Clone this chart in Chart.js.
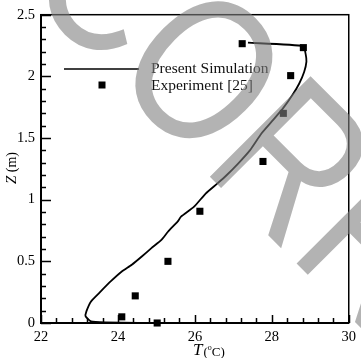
<!DOCTYPE html>
<html>
<head>
<meta charset="utf-8">
<script src="https://cdn.jsdelivr.net/npm/chart.js@4/dist/chart.umd.min.js"></script>
<style>
  html, body { margin: 0; padding: 0; background: #fff; }
  #wrap { width: 361px; height: 358px; position: relative; }
</style>
</head>
<body>
<div id="wrap"><canvas id="myChart"></canvas></div>
<script>
// simulated temperature profile, T (degC) against height Z (m)
const simT = [27.38, 28.82, 28.88, 28.90, 28.84, 28.71, 28.54, 28.29, 28.03, 27.73, 27.43, 27.13, 26.83, 26.58, 26.28, 25.98, 25.64, 25.55, 25.30, 25.13, 24.87, 24.62, 24.36, 24.10, 23.81, 23.51, 23.30, 23.18, 23.16, 23.30, 23.68, 24.53, 25.00];
const simZ = [2.273, 2.245, 2.18, 2.12, 2.035, 1.94, 1.85, 1.74, 1.645, 1.537, 1.40, 1.295, 1.20, 1.13, 1.05, 0.943, 0.862, 0.822, 0.74, 0.674, 0.607, 0.539, 0.472, 0.418, 0.337, 0.243, 0.175, 0.094, 0.053, 0.013, 0.005, 0.0, 0.0];

// measured points
const expT = [27.23, 28.82, 28.49, 28.30, 27.77, 26.13, 25.30, 24.45, 24.10, 25.02];
const expZ = [2.265, 2.233, 2.006, 1.70, 1.31, 0.906, 0.50, 0.22, 0.05, 0.0];

const seriesNames = ['Present Simulation', 'Experiment [25]'];

const xTicks = [22, 24, 26, 28, 30];
const yTicks = [0, 0.5, 1, 1.5, 2, 2.5];

const serif = "'Liberation Serif', 'DejaVu Serif', serif";

const toPoints = (xs, ys) => xs.map((x, i) => ({ x: x, y: ys[i] }));

// box frame plus inward major/minor ticks
const frameTicks = {
  id: 'frameTicks',
  afterDatasetsDraw(chart) {
    const { ctx, chartArea: a, scales: { x, y } } = chart;
    ctx.save();
    ctx.strokeStyle = '#000';
    ctx.lineWidth = 1.5;
    ctx.strokeRect(a.left, a.top, a.right - a.left, a.bottom - a.top);
    ctx.beginPath();
    for (let v = xTicks[0]; v <= xTicks[xTicks.length - 1] + 1e-6; v += 0.4) {
      const px = Math.round(x.getPixelForValue(v)) + 0.5;
      const major = xTicks.some(t => Math.abs(t - v) < 1e-6);
      ctx.moveTo(px, a.bottom);
      ctx.lineTo(px, a.bottom - (major ? 8 : 5));
    }
    for (let v = yTicks[0]; v <= yTicks[yTicks.length - 1] + 1e-6; v += 0.1) {
      const py = Math.round(y.getPixelForValue(v)) + 0.5;
      const major = yTicks.some(t => Math.abs(t - v) < 1e-6);
      ctx.moveTo(a.left, py);
      ctx.lineTo(a.left + (major ? 10 : 5), py);
    }
    ctx.stroke();
    ctx.restore();
  }
};

// axis titles with italic symbols
const axisTitles = {
  id: 'axisTitles',
  afterDraw(chart) {
    const ctx = chart.ctx;
    ctx.save();
    ctx.fillStyle = '#000';
    ctx.textBaseline = 'alphabetic';
    // T(oC)
    let px = 193;
    ctx.font = 'italic 17px ' + serif;
    ctx.fillText('T', px, 355);
    px += ctx.measureText('T').width + 1;
    ctx.font = '13px ' + serif;
    ctx.fillText('(', px, 356);
    px += ctx.measureText('(').width;
    ctx.font = '8px ' + serif;
    ctx.fillText('o', px, 350);
    px += ctx.measureText('o').width;
    ctx.font = '13px ' + serif;
    ctx.fillText('C)', px, 356);

    // Z (m)
    ctx.translate(16, 168);
    ctx.rotate(-Math.PI / 2);
    ctx.font = 'italic 15px ' + serif;
    const wz = ctx.measureText('Z').width;
    ctx.font = '14px ' + serif;
    const wm = ctx.measureText(' (m)').width;
    let sx = -(wz + wm) / 2;
    ctx.font = 'italic 15px ' + serif;
    ctx.fillText('Z', sx, 0);
    ctx.font = '14px ' + serif;
    ctx.fillText(' (m)', sx + wz, 0);
    ctx.restore();
  }
};

// legend drawn inside the plot, top left
const insideLegend = {
  id: 'insideLegend',
  afterDraw(chart) {
    const ctx = chart.ctx;
    ctx.save();
    ctx.strokeStyle = '#000';
    ctx.lineWidth = 1.5;
    ctx.beginPath();
    ctx.moveTo(64, 69);
    ctx.lineTo(139, 69);
    ctx.stroke();
    ctx.fillStyle = '#000';
    ctx.fillRect(98.5, 81.5, 7, 7);
    ctx.font = '15.5px ' + serif;
    ctx.textBaseline = 'middle';
    ctx.fillStyle = '#111';
    ctx.fillText(seriesNames[0], 151, 69);
    ctx.fillText(seriesNames[1], 151, 86);
    ctx.restore();
  }
};

// proof watermark laid over everything
const watermark = {
  id: 'watermark',
  afterDraw(chart) {
    const ctx = chart.ctx;
    ctx.save();
    ctx.fillStyle = 'rgba(128,128,128,0.6)';
    ctx.font = "207px 'Liberation Sans', Arial, sans-serif";
    ctx.translate(200, 167);
    ctx.rotate(Math.PI / 4);
    ctx.scale(0.82, 1);
    const lead = ctx.measureText('UNCO').width;
    ctx.fillText('UNCORRECTED PROOF', -lead, 0);
    ctx.restore();
  }
};

const ctx = document.getElementById('myChart').getContext('2d');
const myChart = new Chart(ctx, {
  type: 'scatter',
  data: {
    datasets: [{
      label: seriesNames[0],
      data: toPoints(simT, simZ),
      showLine: true,
      borderColor: '#000',
      borderWidth: 1.8,
      pointRadius: 0,
      tension: 0.15,
      fill: false,
      clip: false
    }, {
      label: seriesNames[1],
      data: toPoints(expT, expZ),
      showLine: false,
      pointStyle: 'rect',
      pointRadius: 5,
      backgroundColor: '#000',
      borderColor: '#000',
      borderWidth: 0,
      clip: false
    }]
  },
  options: {
    responsive: true,
    maintainAspectRatio: false,
    animation: false,
    layout: { padding: { top: 14, right: 7, left: 0, bottom: 0 } },
    plugins: {
      legend: { display: false },
      tooltip: { enabled: false }
    },
    scales: {
      x: {
        type: 'linear',
        min: 22,
        max: 30,
        afterBuildTicks: (s) => { s.ticks = xTicks.map(v => ({ value: v })); },
        afterFit: (s) => { s.height = 35; },
        grid: { display: false, drawTicks: false },
        border: { display: true, color: '#000', width: 2 },
        ticks: { color: '#000', padding: 5, font: { family: serif, size: 14.5 }, callback: (v) => String(v) }
      },
      y: {
        type: 'linear',
        min: 0,
        max: 2.5,
        afterBuildTicks: (s) => { s.ticks = yTicks.map(v => ({ value: v })); },
        afterFit: (s) => { s.width = 41; },
        grid: { display: false, drawTicks: false },
        border: { display: true, color: '#000', width: 2 },
        ticks: { color: '#000', padding: 6, font: { family: serif, size: 14.5 }, callback: (v) => String(v) }
      }
    }
  },
  plugins: [frameTicks, axisTitles, insideLegend, watermark]
});
</script>
</body>
</html>
